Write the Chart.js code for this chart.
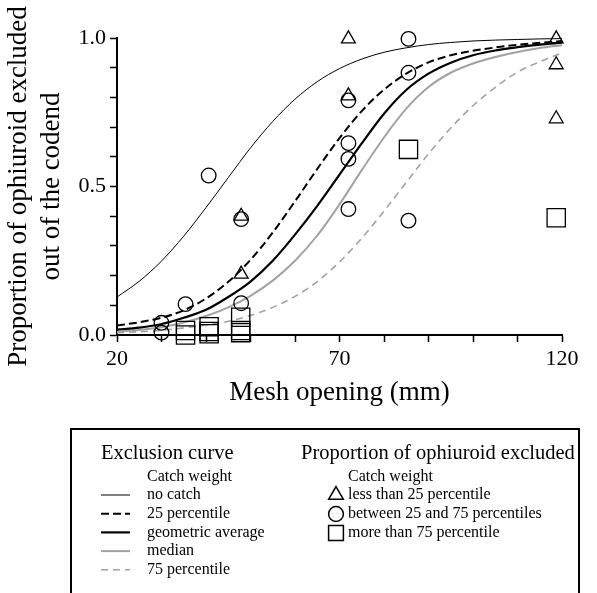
<!DOCTYPE html>
<html>
<head>
<meta charset="utf-8">
<script src="https://cdn.jsdelivr.net/npm/chart.js@4.4.1/dist/chart.umd.min.js"></script>
<style>
  html, body { margin: 0; padding: 0; background: #ffffff; }
</style>
</head>
<body>
<canvas id="graficoMalla" width="597" height="593"></canvas>
<script>
// Luz de malla (mm) donde se leyeron las curvas
const malla = [20, 25, 30, 35, 40, 45, 50, 55, 60, 65, 70, 75, 80, 85, 90, 95, 100, 105, 110, 115, 120];

// Curvas de exclusión
const sinCaptura   = [0.128, 0.181, 0.249, 0.333, 0.429, 0.530, 0.630, 0.719, 0.794, 0.853, 0.897, 0.929, 0.952, 0.967, 0.978, 0.985, 0.990, 0.993, 0.995, 0.997, 0.998];
const percentil25  = [0.032, 0.043, 0.058, 0.083, 0.123, 0.179, 0.253, 0.345, 0.450, 0.559, 0.663, 0.754, 0.826, 0.880, 0.918, 0.942, 0.957, 0.968, 0.977, 0.984, 0.990];
const mediaGeom    = [0.018, 0.025, 0.037, 0.058, 0.085, 0.128, 0.180, 0.250, 0.338, 0.435, 0.540, 0.645, 0.745, 0.825, 0.880, 0.917, 0.942, 0.958, 0.969, 0.978, 0.984];
const mediana      = [0.012, 0.017, 0.026, 0.042, 0.064, 0.093, 0.132, 0.183, 0.250, 0.335, 0.440, 0.555, 0.665, 0.762, 0.835, 0.883, 0.914, 0.936, 0.953, 0.966, 0.976];
const percentil75  = [0.008, 0.011, 0.016, 0.024, 0.034, 0.046, 0.066, 0.093, 0.130, 0.180, 0.246, 0.326, 0.417, 0.514, 0.610, 0.697, 0.772, 0.834, 0.885, 0.920, 0.950];

// Proporciones observadas
const trianguloX = [72, 72, 47.9, 47.9, 118.7, 118.7, 118.7];
const trianguloY = [0.997, 0.805, 0.40, 0.205, 0.997, 0.91, 0.728];
const circuloX   = [30.0, 30.0, 35.4, 40.6, 47.9, 47.9, 72, 72, 72, 72, 85.5, 85.5, 85.5];
const circuloY   = [0.041, 0.008, 0.104, 0.537, 0.39, 0.107, 0.79, 0.646, 0.593, 0.424, 0.997, 0.883, 0.385];
const cuadradoX  = [35.4, 35.4, 40.7, 40.7, 40.7, 47.8, 47.8, 47.8, 85.5, 118.7];
const cuadradoY  = [0.0, 0.015, 0.004, 0.012, 0.028, 0.008, 0.015, 0.06, 0.625, 0.395];

const etiquetasX = [20, 70, 120];
const etiquetasY = [0, 0.5, 1];

const nombresCurvas = ['no catch', '25 percentile', 'geometric average', 'median', '75 percentile'];
const nombresMarcas = ['less than 25 percentile', 'between 25 and 75 percentiles', 'more than 75 percentile'];

const serif = "'Liberation Serif', 'Times New Roman', serif";
const negro = '#000000';
const gris = '#a2a2a2';

function puntos(xs, ys) {
  return xs.map((x, i) => ({ x: x, y: ys[i] }));
}

function curva(label, ys, color, ancho, dash) {
  return {
    type: 'line',
    label: label,
    data: puntos(malla, ys),
    borderColor: color,
    borderWidth: ancho,
    borderDash: dash,
    pointRadius: 0,
    fill: false,
    cubicInterpolationMode: 'monotone',
  };
}

function marcas(label, xs, ys, estilo, radio) {
  return {
    type: 'scatter',
    label: label,
    data: puntos(xs, ys),
    pointStyle: estilo,
    pointRadius: radio,
    pointHoverRadius: radio,
    borderColor: negro,
    borderWidth: 1.3,
    backgroundColor: 'rgba(0,0,0,0)',
    clip: false,
  };
}

const curvas = [
  curva(nombresCurvas[0], sinCaptura, negro, 1, []),
  curva(nombresCurvas[1], percentil25, negro, 2, [8, 4]),
  curva(nombresCurvas[2], mediaGeom, negro, 2.2, []),
  curva(nombresCurvas[3], mediana, gris, 2, []),
  curva(nombresCurvas[4], percentil75, gris, 1.6, [7, 5]),
];

const simbolos = [
  marcas(nombresMarcas[0], trianguloX, trianguloY, 'triangle', 8),
  marcas(nombresMarcas[1], circuloX, circuloY, 'circle', 7.3),
  marcas(nombresMarcas[2], cuadradoX, cuadradoY, 'rect', 12.9),
];

// Leyenda dibujada en el recuadro inferior
const leyenda = {
  id: 'leyendaCaja',
  afterDraw(chart) {
    const ctx = chart.ctx;
    ctx.save();
    ctx.strokeStyle = negro;
    ctx.lineWidth = 2;
    ctx.setLineDash([]);
    ctx.strokeRect(71, 429, 508, 180);

    ctx.fillStyle = negro;
    ctx.textAlign = 'left';
    ctx.textBaseline = 'middle';
    ctx.font = '20.5px ' + serif;
    ctx.fillText('Exclusion curve', 101, 454);
    ctx.fillText('Proportion of ophiuroid excluded', 301, 454);
    ctx.font = '16px ' + serif;
    ctx.fillText('Catch weight', 147, 477);
    ctx.fillText('Catch weight', 348, 477);

    curvas.forEach((c, i) => {
      const y = 495 + i * 18.7;
      ctx.strokeStyle = c.borderColor;
      ctx.lineWidth = c.borderWidth;
      ctx.setLineDash(c.borderDash);
      ctx.beginPath();
      ctx.moveTo(101, y);
      ctx.lineTo(130, y);
      ctx.stroke();
      ctx.fillText(c.label, 147, y);
    });

    ctx.setLineDash([]);
    ctx.strokeStyle = negro;
    ctx.lineWidth = 1.5;
    simbolos.forEach((s, i) => {
      const y = 495 + i * 19;
      const x = 336;
      ctx.beginPath();
      if (s.pointStyle === 'triangle') {
        const r = 8.5;
        ctx.moveTo(x, y - r);
        ctx.lineTo(x + r * Math.sin(Math.PI / 3), y + r / 2);
        ctx.lineTo(x - r * Math.sin(Math.PI / 3), y + r / 2);
        ctx.closePath();
      } else if (s.pointStyle === 'circle') {
        ctx.arc(x, y, 7.4, 0, Math.PI * 2);
      } else {
        ctx.rect(x - 7.4, y - 7.4, 14.8, 14.8);
      }
      ctx.stroke();
      ctx.fillText(s.label, 348, y);
    });
    ctx.restore();
  },
};

const ctx = document.getElementById('graficoMalla').getContext('2d');

const grafico = new Chart(ctx, {
  data: { datasets: simbolos.concat(curvas) },
  options: {
    responsive: false,
    animation: false,
    devicePixelRatio: 1,
    layout: { padding: { top: 38, right: 35, bottom: 170, left: 0 } },
    plugins: {
      legend: { display: false },
      tooltip: { enabled: false },
    },
    scales: {
      x: {
        type: 'linear',
        min: 20,
        max: 120,
        ticks: {
          stepSize: 10,
          autoSkip: false,
          maxRotation: 0,
          padding: 4,
          color: negro,
          font: { family: serif, size: 22 },
          callback: (v) => (etiquetasX.some((e) => Math.abs(e - v) < 1e-6) ? String(v) : ''),
        },
        grid: { drawOnChartArea: false, drawTicks: true, tickLength: 7, tickColor: negro, tickWidth: 1.5 },
        border: { display: true, color: negro, width: 2 },
        title: {
          display: true,
          text: 'Mesh opening (mm)',
          color: negro,
          font: { family: serif, size: 27, lineHeight: 1.2 },
          padding: { top: 0, bottom: 14 },
        },
        afterFit: (s) => { s.height = 88; },
      },
      y: {
        type: 'linear',
        min: 0,
        max: 1,
        ticks: {
          stepSize: 0.1,
          autoSkip: false,
          padding: 4,
          color: negro,
          font: { family: serif, size: 22 },
          callback: (v) => (etiquetasY.some((e) => Math.abs(e - v) < 1e-6) ? v.toFixed(1) : ''),
        },
        grid: { drawOnChartArea: false, drawTicks: true, tickLength: 7, tickColor: negro, tickWidth: 1.5 },
        border: { display: true, color: negro, width: 2 },
        title: {
          display: true,
          text: ['Proportion of ophiuroid excluded', 'out of the codend'],
          color: negro,
          font: { family: serif, size: 27, lineHeight: 1.2 },
          padding: { top: 3, bottom: 0 },
        },
        afterFit: (s) => { s.width = 117; },
      },
    },
  },
  plugins: [leyenda],
});
</script>
</body>
</html>
